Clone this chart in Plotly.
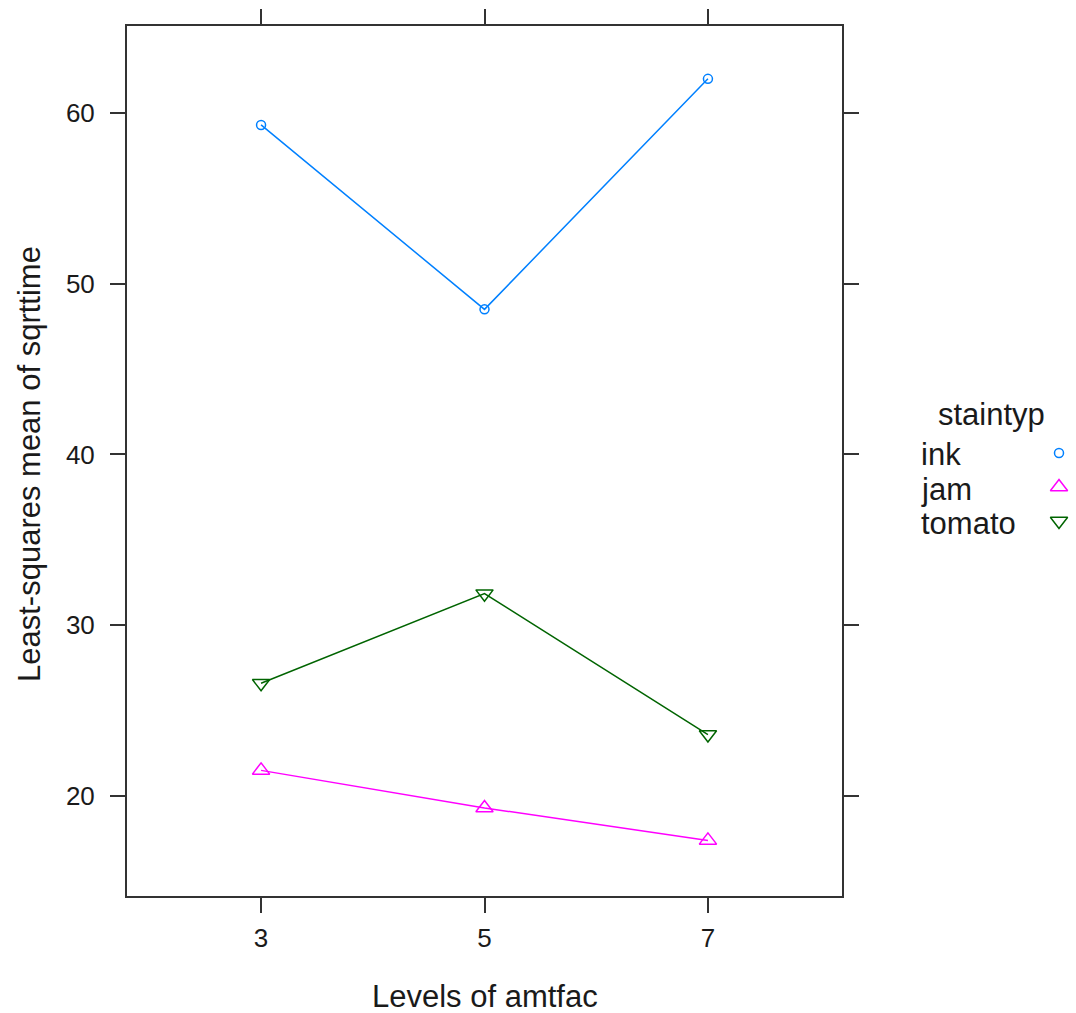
import plotly.graph_objects as go

# ---- data ----
amtfac_levels = ["3", "5", "7"]
series_names = ["ink", "jam", "tomato"]
ink = [59.3, 48.5, 62.0]
jam = [21.5, 19.3, 17.4]
tomato = [26.6, 31.85, 23.6]
y_tick_vals = [20, 30, 40, 50, 60]

# ---- layout constants ----
W, H = 1076, 1013
PL, PR, PT, PB = 127, 842, 26, 896          # plot frame in pixels
FONT = "Liberation Sans, Arial, Helvetica, sans-serif"
TXT = "#1a1a1a"
FRAME = "#333333"
TITLE_SIZE = 31
TICK_SIZE = 26

colors = ["#0080ff", "#ff00ff", "#006400"]
symbols = ["circle-open", "triangle-up-open", "triangle-down-open"]
sizes = [9, 15, 15]

fig = go.Figure()
for name, vals, c, s, sz in zip(series_names, [ink, jam, tomato], colors, symbols, sizes):
    fig.add_trace(go.Scatter(
        x=amtfac_levels, y=vals, mode="lines+markers", name=name,
        line=dict(color=c, width=1.5),
        marker=dict(symbol=s, size=sz, color=c, line=dict(color=c, width=1.5)),
        showlegend=False, xaxis="x", yaxis="y", hoverinfo="x+y+name"))

# ---- manual legend (symbols to the right of the labels, lattice style) ----
leg_sym_x = 1059
leg_row0 = 453
leg_step = 34
for i, (name, c, s, sz) in enumerate(zip(series_names, colors, symbols, sizes)):
    fig.add_trace(go.Scatter(
        x=[leg_sym_x], y=[leg_row0 + i * leg_step], mode="markers",
        marker=dict(symbol=s, size=sz, color=c, line=dict(color=c, width=1.5)),
        showlegend=False, xaxis="x2", yaxis="y2", hoverinfo="skip"))
    fig.add_annotation(x=919 / W, y=1 - (leg_row0 + 2 + i * leg_step) / H,
                       xref="paper", yref="paper", xanchor="left", yanchor="middle",
                       text=name, showarrow=False,
                       font=dict(family=FONT, size=TITLE_SIZE, color=TXT))
fig.add_annotation(x=991 / W, y=1 - 414 / H, xref="paper", yref="paper",
                   xanchor="center", yanchor="middle", text="staintyp", showarrow=False,
                   font=dict(family=FONT, size=TITLE_SIZE, color=TXT))

# ---- axis titles ----
fig.add_annotation(x=(PL + PR) / 2 / W, y=1 - 996 / H, xref="paper", yref="paper",
                   xanchor="center", yanchor="middle", text="Levels of amtfac", showarrow=False,
                   font=dict(family=FONT, size=TITLE_SIZE, color=TXT))
fig.add_annotation(x=29 / W, y=1 - 464 / H, xref="paper", yref="paper",
                   xanchor="center", yanchor="middle", text="Least-squares mean of sqrttime",
                   showarrow=False, textangle=-90,
                   font=dict(family=FONT, size=TITLE_SIZE, color=TXT))

axis_common = dict(showgrid=False, zeroline=False, showline=True, mirror="ticks",
                   linecolor=FRAME, linewidth=2, ticks="outside", ticklen=15,
                   tickwidth=2, tickcolor=FRAME, automargin=False,
                   tickfont=dict(family=FONT, size=TICK_SIZE, color=TXT))

fig.update_layout(
    width=W, height=H,
    margin=dict(l=0, r=0, t=0, b=0),
    paper_bgcolor="white", plot_bgcolor="rgba(0,0,0,0)",
    showlegend=False,
    xaxis=dict(domain=[PL / W, PR / W], type="category", range=[-0.6, 2.6],
               categoryorder="array", categoryarray=amtfac_levels,
               ticklabelstandoff=3, **axis_common),
    yaxis=dict(domain=[1 - PB / H, 1 - PT / H], range=[14.143, 65.095],
               tickvals=y_tick_vals, ticklabelstandoff=10, **axis_common),
    xaxis2=dict(domain=[0, 1], range=[0, W], visible=False, fixedrange=True, anchor="y2"),
    yaxis2=dict(domain=[0, 1], range=[H, 0], visible=False, fixedrange=True, anchor="x2"),
)

fig.write_html("out.html", config={"displayModeBar": False},
               post_script="document.body.style.margin='0';document.body.style.overflow='hidden';")
